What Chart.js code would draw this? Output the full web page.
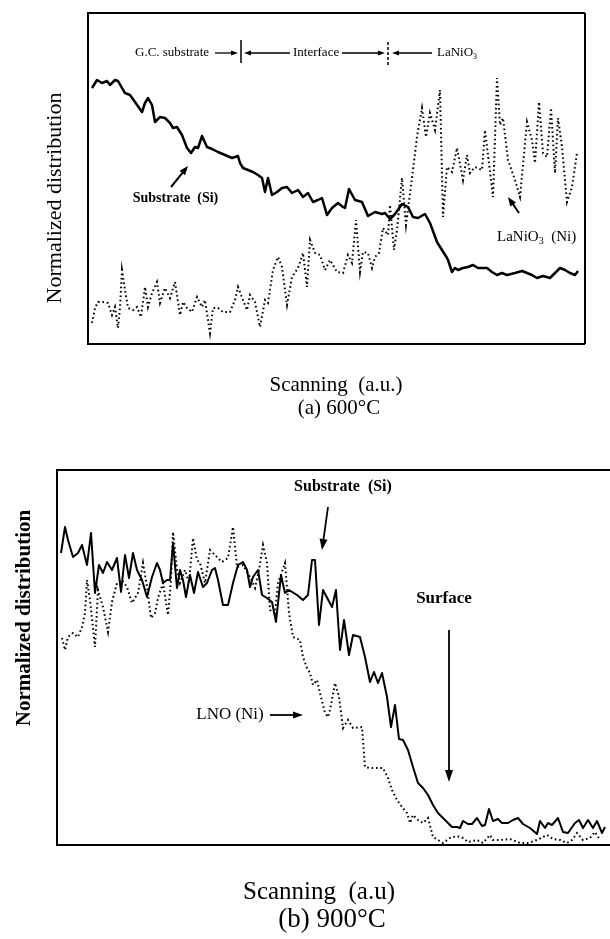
<!DOCTYPE html>
<html>
<head>
<meta charset="utf-8">
<script src="https://cdn.jsdelivr.net/npm/chart.js@4.4.1/dist/chart.umd.min.js"></script>
<style>
  html, body { margin: 0; padding: 0; background: #fff; }
  body { width: 610px; height: 939px; position: relative; overflow: hidden; }
  #panelA { position: absolute; left: 0; top: 0; }
  #panelB { position: absolute; left: 0; top: 440px; }
</style>
</head>
<body>
<canvas id="panelA" width="610" height="440"></canvas>
<canvas id="panelB" width="610" height="499"></canvas>
<script>
// ---------- (a) 600 °C : scan position (a.u.) and normalized counts ----------
const scanA_Si = [
  4, 9, 14, 19, 22, 27, 30, 34, 37, 42,
  47, 54, 57, 60, 64, 67, 72, 77, 82, 85,
  89, 94, 99, 103, 107, 110, 114, 119, 124, 130,
  137, 144, 150, 152, 155, 160, 165, 170, 174, 177,
  180, 184, 189, 194, 199, 204, 210, 215, 220, 225,
  230, 234, 239, 244, 250, 255, 257, 261, 267, 274,
  280, 287, 294, 297, 302, 307, 314, 320, 325, 330,
  337, 342, 349, 354, 359, 360, 364, 367, 370, 375,
  380, 385, 390, 399, 404, 409, 414, 419, 427, 434,
  439, 444, 449, 455, 462, 467, 472, 477, 482, 487,
  490
];
const countsA_Si = [
  256, 264, 261, 263, 259, 264, 263, 256, 251, 249,
  242, 232, 241, 246, 239, 222, 227, 226, 221, 216,
  217, 209, 196, 191, 197, 196, 208, 197, 195, 192,
  189, 186, 188, 181, 176, 174, 172, 169, 166, 152,
  166, 149, 152, 156, 157, 151, 154, 147, 151, 142,
  144, 146, 129, 136, 141, 137, 136, 155, 144, 142,
  128, 132, 130, 131, 125, 130, 140, 137, 127, 126,
  130, 121, 102, 94, 86, 84, 72, 76, 74, 76,
  77, 79, 76, 76, 72, 69, 71, 69, 71, 73,
  71, 69, 66, 68, 66, 71, 76, 74, 71, 69,
  73
];
const scanA_Ni = [
  4, 7, 10, 15, 20, 24, 27, 30, 32, 34,
  37, 40, 45, 49, 53, 57, 60, 64, 69, 72,
  77, 82, 87, 92, 95, 99, 104, 109, 114, 117,
  122, 125, 130, 135, 142, 147, 150, 155, 159, 162,
  167, 172, 177, 180, 185, 190, 194, 199, 204, 210,
  215, 219, 222, 227, 232, 237, 242, 249, 255, 260,
  264, 268, 272, 275, 280, 284, 287, 291, 295, 300,
  302, 306, 309, 314, 318, 324, 329, 334, 338, 342,
  347, 352, 355, 359, 364, 369, 375, 379, 382, 387,
  394, 397, 405, 409, 412, 415, 420, 427, 432, 439,
  444, 447, 451, 455, 459, 463, 467, 470, 474, 479,
  484, 489
];
const countsA_Ni = [
  21, 36, 42, 42, 41, 29, 37, 16, 36, 74,
  54, 36, 34, 37, 27, 57, 37, 51, 62, 41,
  56, 46, 62, 29, 42, 36, 32, 47, 37, 44,
  11, 36, 36, 32, 32, 44, 57, 44, 34, 49,
  42, 17, 44, 41, 74, 87, 77, 39, 67, 76,
  91, 57, 104, 91, 89, 74, 84, 72, 71, 89,
  81, 124, 72, 92, 91, 76, 87, 91, 116, 109,
  139, 94, 114, 166, 119, 166, 207, 236, 207, 231,
  214, 254, 127, 177, 172, 196, 164, 189, 171, 177,
  174, 214, 147, 266, 219, 226, 184, 164, 147, 222,
  204, 181, 242, 191, 187, 236, 171, 226, 197, 142,
  157, 191
];

// ---------- (b) 900 °C ----------
const scanB_Si = [
  4, 8, 11, 16, 21, 25, 30, 34, 38, 42,
  46, 50, 55, 60, 64, 68, 72, 76, 80, 85,
  90, 95, 100, 103, 106, 110, 113, 116, 120, 123,
  126, 129, 133, 137, 141, 146, 150, 155, 158, 161,
  166, 171, 176, 181, 186, 190, 193, 196, 201, 205,
  210, 215, 219, 224, 228, 232, 240, 246, 251, 255,
  258, 262, 266, 275, 279, 283, 287, 292, 296, 303,
  308, 313, 317, 321, 325, 330, 334, 338, 342, 346,
  351, 356, 361, 366, 371, 376, 381, 388, 395, 400,
  403, 406, 411, 415, 420, 425, 428, 432, 436, 441,
  445, 451, 456, 461, 466, 473, 480, 483, 488, 491,
  495, 501, 506, 511, 518, 522, 526, 531, 536, 540,
  545, 548
];
const countsB_Si = [
  292, 318, 305, 288, 292, 300, 280, 312, 252, 280,
  272, 283, 275, 287, 253, 290, 267, 292, 275, 265,
  248, 268, 282, 275, 262, 265, 265, 302, 257, 275,
  265, 248, 270, 252, 273, 258, 262, 275, 277, 265,
  240, 240, 262, 280, 283, 275, 258, 268, 275, 250,
  247, 243, 223, 270, 252, 255, 250, 245, 250, 285,
  285, 220, 255, 238, 255, 195, 225, 190, 210, 208,
  188, 163, 173, 162, 172, 148, 118, 140, 106, 105,
  95, 78, 62, 57, 50, 40, 32, 25, 18, 18,
  17, 24, 21, 21, 27, 19, 20, 36, 24, 26,
  22, 22, 25, 27, 21, 17, 11, 24, 17, 22,
  20, 27, 13, 12, 22, 25, 17, 25, 17, 24,
  12, 18
];
const scanB_Ni = [
  5, 8, 11, 16, 21, 25, 28, 30, 33, 38,
  41, 46, 51, 55, 60, 65, 70, 75, 81, 86,
  90, 94, 98, 101, 106, 111, 114, 116, 120, 123,
  128, 132, 136, 140, 143, 148, 153, 158, 165, 171,
  176, 180, 186, 193, 198, 202, 206, 210, 213, 218,
  221, 228, 232, 236, 243, 246, 250, 253, 256, 260,
  263, 268, 271, 273, 278, 282, 286, 291, 296, 305,
  308, 313, 320, 326, 331, 335, 340, 345, 350, 353,
  356, 361, 366, 371, 376, 386, 393, 400, 406, 411,
  420, 426, 433, 436, 443, 453, 463, 471, 480, 490,
  496, 503, 510, 515, 520, 526, 533, 538, 543
];
const countsB_Ni = [
  207, 195, 208, 212, 208, 218, 232, 265, 245, 198,
  255, 238, 213, 243, 262, 265, 258, 242, 252, 282,
  258, 227, 232, 247, 262, 230, 265, 313, 275, 262,
  275, 262, 307, 285, 282, 262, 295, 290, 283, 287,
  318, 278, 280, 268, 257, 275, 300, 282, 235, 232,
  262, 282, 232, 208, 205, 188, 177, 172, 160, 165,
  152, 132, 128, 135, 162, 148, 117, 125, 117, 118,
  78, 77, 77, 77, 67, 55, 45, 38, 32, 22,
  30, 25, 22, 27, 8, 2, 7, 9, 7, 3,
  5, 2, 10, 5, 5, 6, 2, 2, 5, 10,
  6, 5, 2, 5, 12, 5, 7, 13, 5
];

const SERIF = '"Liberation Serif", "Times New Roman", serif';

function points(xs, ys) {
  return xs.map((x, i) => ({ x: x, y: ys[i] }));
}

// text, arrows and axis titles of each panel, placed in that panel's data units
const notesA = [
  { kind: 'text', x: -33, y: 146, parts: [{ t: 'Normalized distribution' }], size: 22, rotate: true, align: 'center' },
  { kind: 'text', x: 248, y: -41, parts: [{ t: 'Scanning  (a.u.)' }], size: 21, align: 'center' },
  { kind: 'text', x: 251, y: -64, parts: [{ t: '(a) 600°C' }], size: 21, align: 'center' },
  { kind: 'text', x: 47, y: 291, parts: [{ t: 'G.C. substrate' }], size: 13, align: 'left' },
  { kind: 'arrow', x1: 127, y1: 291, x2: 150, y2: 291, head: 7, half: 2.5, width: 1.3 },
  { kind: 'bar', x: 153, y1: 304, y2: 281, dash: [] },
  { kind: 'arrow', x1: 202, y1: 291, x2: 156, y2: 291, head: 7, half: 2.5, width: 1.3 },
  { kind: 'text', x: 205, y: 291, parts: [{ t: 'Interface' }], size: 13, align: 'left' },
  { kind: 'arrow', x1: 254, y1: 291, x2: 297, y2: 291, head: 7, half: 2.5, width: 1.3 },
  { kind: 'bar', x: 300, y1: 302, y2: 277, dash: [3, 2] },
  { kind: 'arrow', x1: 344, y1: 291, x2: 304, y2: 291, head: 7, half: 2.5, width: 1.3 },
  { kind: 'text', x: 349, y: 291, parts: [{ t: 'LaNiO' }, { t: '3', sub: true }], size: 13, align: 'left' },
  { kind: 'text', x: 87.5, y: 146, parts: [{ t: 'Substrate  (Si)' }], size: 14, bold: true, align: 'center' },
  { kind: 'arrow', x1: 83, y1: 157, x2: 100, y2: 178, head: 9, half: 3.5, width: 2 },
  { kind: 'text', x: 409, y: 107, parts: [{ t: 'LaNiO' }, { t: '3', sub: true }, { t: '  (Ni)' }], size: 15, align: 'left' },
  { kind: 'arrow', x1: 431, y1: 131, x2: 420, y2: 147, head: 9, half: 3.5, width: 2 }
];
const notesB = [
  { kind: 'text', x: -32, y: 227, parts: [{ t: 'Normalized distribution' }], size: 21, bold: true, rotate: true, align: 'center' },
  { kind: 'text', x: 262, y: -47, parts: [{ t: 'Scanning  (a.u)' }], size: 25, align: 'center' },
  { kind: 'text', x: 275, y: -75, parts: [{ t: '(b) 900°C' }], size: 27, align: 'center' },
  { kind: 'text', x: 286, y: 358, parts: [{ t: 'Substrate  (Si)' }], size: 16, bold: true, align: 'center' },
  { kind: 'arrow', x1: 271, y1: 338, x2: 265, y2: 295, head: 11, half: 4, width: 1.8 },
  { kind: 'text', x: 387, y: 246, parts: [{ t: 'Surface' }], size: 17, bold: true, align: 'center' },
  { kind: 'arrow', x1: 392, y1: 215, x2: 392, y2: 63, head: 12, half: 4, width: 1.8 },
  { kind: 'text', x: 173, y: 130, parts: [{ t: 'LNO (Ni)' }], size: 17, align: 'center' },
  { kind: 'arrow', x1: 213, y1: 130, x2: 246, y2: 130, head: 10, half: 3.5, width: 1.8 }
];

function drawArrow(ctx, x1, y1, x2, y2, head, half) {
  const a = Math.atan2(y2 - y1, x2 - x1);
  const c = Math.cos(a), s = Math.sin(a);
  ctx.beginPath();
  ctx.moveTo(x1, y1);
  ctx.lineTo(x2 - c * head * 0.8, y2 - s * head * 0.8);
  ctx.stroke();
  ctx.beginPath();
  ctx.moveTo(x2, y2);
  ctx.lineTo(x2 - c * head + s * half, y2 - s * head - c * half);
  ctx.lineTo(x2 - c * head - s * half, y2 - s * head + c * half);
  ctx.closePath();
  ctx.fill();
}

function drawParts(ctx, note, px, py) {
  const weight = note.bold ? 'bold ' : '';
  const main = weight + note.size + 'px ' + SERIF;
  const small = weight + Math.round(note.size * 0.65) + 'px ' + SERIF;
  let total = 0;
  const widths = note.parts.map(p => {
    ctx.font = p.sub ? small : main;
    const w = ctx.measureText(p.t).width;
    total += w;
    return w;
  });
  ctx.save();
  ctx.translate(px, py);
  if (note.rotate) ctx.rotate(-Math.PI / 2);
  let x = note.align === 'center' ? -total / 2 : 0;
  ctx.textAlign = 'left';
  ctx.textBaseline = 'middle';
  note.parts.forEach((p, i) => {
    ctx.font = p.sub ? small : main;
    ctx.fillText(p.t, x, p.sub ? note.size * 0.3 : 0);
    x += widths[i];
  });
  ctx.restore();
}

// frame around the plot area plus the text/arrow layer
const framePlugin = {
  id: 'frameAndNotes',
  afterDatasetsDraw(chart, args, opts) {
    const { ctx, chartArea: ca, scales } = chart;
    ctx.save();
    ctx.strokeStyle = '#000';
    ctx.fillStyle = '#000';
    ctx.lineWidth = 2;
    ctx.setLineDash([]);
    ctx.beginPath();
    if (opts.sides.includes('top')) { ctx.moveTo(ca.left, ca.top); ctx.lineTo(ca.right, ca.top); }
    if (opts.sides.includes('right')) { ctx.moveTo(ca.right, ca.top); ctx.lineTo(ca.right, ca.bottom); }
    if (opts.sides.includes('bottom')) { ctx.moveTo(ca.left, ca.bottom); ctx.lineTo(ca.right, ca.bottom); }
    if (opts.sides.includes('left')) { ctx.moveTo(ca.left, ca.top - 1); ctx.lineTo(ca.left, ca.bottom + 1); }
    ctx.stroke();

    const X = v => scales.x.getPixelForValue(v);
    const Y = v => scales.y.getPixelForValue(v);
    (opts.notes || []).forEach(n => {
      if (n.kind === 'text') {
        drawParts(ctx, n, X(n.x), Y(n.y));
      } else if (n.kind === 'arrow') {
        ctx.lineWidth = n.width;
        ctx.setLineDash([]);
        drawArrow(ctx, X(n.x1), Y(n.y1), X(n.x2), Y(n.y2), n.head, n.half);
      } else if (n.kind === 'bar') {
        ctx.lineWidth = 1.5;
        ctx.setLineDash(n.dash);
        ctx.beginPath();
        ctx.moveTo(X(n.x), Y(n.y1));
        ctx.lineTo(X(n.x), Y(n.y2));
        ctx.stroke();
        ctx.setLineDash([]);
      }
    });
    ctx.restore();
  }
};

function makePanel(canvasId, cfg) {
  return new Chart(document.getElementById(canvasId), {
    type: 'line',
    data: {
      datasets: [
        {
          label: cfg.solidLabel,
          data: points(cfg.solidX, cfg.solidY),
          borderColor: '#000', borderWidth: cfg.solidWidth,
          pointRadius: 0, tension: 0, borderJoinStyle: 'round', fill: false
        },
        {
          label: cfg.dotLabel,
          data: points(cfg.dotX, cfg.dotY),
          borderColor: '#000', borderWidth: 2, borderDash: [1.6, 2.8],
          pointRadius: 0, tension: 0, fill: false
        }
      ]
    },
    options: {
      responsive: false,
      animation: false,
      events: [],
      layout: { padding: cfg.padding },
      plugins: {
        legend: { display: false },
        tooltip: { enabled: false },
        frameAndNotes: { sides: cfg.sides, notes: cfg.notes }
      },
      scales: {
        x: {
          type: 'linear', min: 0, max: cfg.xMax,
          grid: { display: false, drawTicks: false },
          border: { display: false },
          ticks: { display: false },
          afterFit(s) { s.height = cfg.xAxisHeight; }
        },
        y: {
          type: 'linear', min: 0, max: cfg.yMax,
          grid: { display: false, drawTicks: false },
          border: { display: false },
          ticks: { display: false },
          afterFit(s) { s.width = cfg.yAxisWidth; }
        }
      }
    },
    plugins: [framePlugin]
  });
}

makePanel('panelA', {
  solidLabel: 'Substrate (Si)', solidX: scanA_Si, solidY: countsA_Si, solidWidth: 2.5,
  dotLabel: 'LaNiO3 (Ni)', dotX: scanA_Ni, dotY: countsA_Ni,
  xMax: 497, yMax: 331,
  padding: { left: 0, right: 25, top: 13, bottom: 0 },
  xAxisHeight: 96, yAxisWidth: 88,
  sides: ['top', 'right', 'bottom', 'left'],
  notes: notesA
});

makePanel('panelB', {
  solidLabel: 'Substrate (Si)', solidX: scanB_Si, solidY: countsB_Si, solidWidth: 2,
  dotLabel: 'LNO (Ni)', dotX: scanB_Ni, dotY: countsB_Ni,
  xMax: 553, yMax: 375,
  padding: { left: 0, right: 0, top: 30, bottom: 0 },
  xAxisHeight: 94, yAxisWidth: 57,
  sides: ['top', 'bottom', 'left'],
  notes: notesB
});
</script>
</body>
</html>
